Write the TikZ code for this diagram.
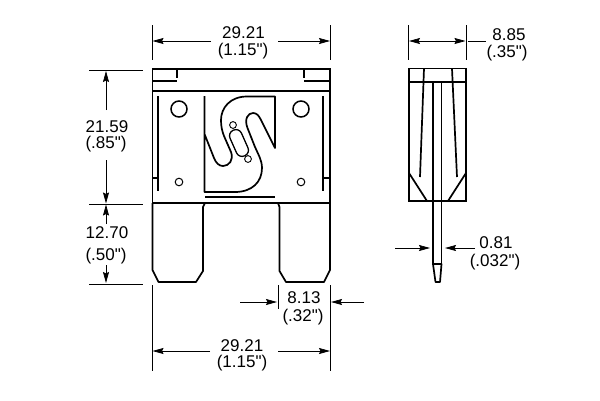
\documentclass[tikz,border=0pt]{standalone}
\usepackage{fontspec}
\newfontfamily\dimfont{Liberation Sans}
\usetikzlibrary{arrows.meta}
\tikzset{
  part/.style={line width=1.7pt,line join=miter,black},
  thin part/.style={line width=1.3pt,black},
  dimline/.style={line width=0.75pt,black},
  dimarrow/.style={line width=0.75pt,black,-{Stealth[length=11pt,width=6pt,inset=1.5pt]}},
  dimtext/.style={inner sep=0pt,font=\dimfont\fontsize{17}{19}\selectfont,text=black}
}
\begin{document}
\begin{tikzpicture}[x=1pt,y=-1pt]
\useasboundingbox (0,0) rectangle (600,400);
\fill[white] (0,0) rectangle (600,400);
% --- front view body
\draw[part] (152.5,203) -- (152.5,69) -- (330,69) -- (330,203);
\draw[part] (152.5,91) -- (330,91);
\draw[part] (152.5,203) -- (330,203);
\draw[thin part] (153,81) -- (177,81);
\draw[thin part] (177,69) -- (177,78);
\draw[thin part] (330,81) -- (304,81);
\draw[thin part] (304,69) -- (304,78);
\draw[part] (158,96) -- (158,191);
\draw[part] (323,96) -- (323,191);
\draw[thin part] (152.5,178) -- (158,178);
\draw[thin part] (323,178) -- (330,178);
\draw[line width=1.5pt] (179,109) circle (8);
\draw[line width=1.5pt] (301,109) circle (8);
\draw[line width=1pt] (179,182) circle (3.8);
\draw[line width=1pt] (301,182) circle (3.8);
% --- S shaped element
\draw[part,line join=round] (204.5,96) -- (204.5,192) -- (235,192)
  .. controls (252,192) and (262,182) .. (262,168)
  .. controls (262,160) and (258,154) .. (255,147)
  -- (247.5,128)
  .. controls (244,119) and (248,113) .. (253,113)
  .. controls (257,113) and (259,116) .. (261,120)
  -- (275,148) -- (275,96.5) -- (247,96.5)
  .. controls (230,96.5) and (221,108) .. (221,120)
  .. controls (221,126) and (222,131) .. (224,136)
  -- (231,152)
  .. controls (234,160) and (229,166) .. (223,166)
  .. controls (219,166) and (216,163) .. (214,158)
  -- (204.5,134);
\draw[part] (205,197) -- (275,197);
\node[draw,line width=1.3pt,rounded corners=6pt,rotate=24,minimum width=12.5pt,minimum height=28pt,inner sep=0pt] (slot) at (239,143) {};
\draw[line width=0.9pt] (233,125) circle (3.4);
\draw[line width=0.9pt] (248,159) circle (3.4);
% --- blades
\draw[part,line join=round] (152.5,203) -- (152.5,270) -- (158.5,282) -- (196,282) -- (203,271) -- (203,207) -- (205,203);
\draw[part,line join=round] (278,203) -- (279.5,207) -- (279.5,271) -- (286,282) -- (324,282) -- (330,270) -- (330,203);
% --- side view
\draw[part] (409,68.5) rectangle (466,201);
\draw[part] (409,82) -- (466,82);
\draw[part] (424,68.5) -- (420,177);
\draw[part] (452,68.5) -- (457,177);
\draw[part] (409,173) -- (427,201);
\draw[part] (466,173) -- (448,201);
\draw[part] (433,82) -- (433,264);
\draw[part] (441.5,82) -- (441.5,264);
\draw[part,line join=round] (433,264) -- (441.5,264) -- (440,282) -- (435.5,282) -- cycle;
% --- dimension texts
\node[dimtext] (ta) at (243.5,33) {29.21};
\node[dimtext] (tb) at (243,51) {(1.15")};
\node[dimtext] (tc) at (107,127) {21.59};
\node[dimtext] (td) at (106,144) {(.85")};
\node[dimtext] (te) at (107,233) {12.70};
\node[dimtext] (tf) at (106,256) {(.50")};
\node[dimtext] (tg) at (509,35) {8.85};
\node[dimtext] (th) at (507,53.5) {(.35")};
\node[dimtext] (ti) at (304,298) {8.13};
\node[dimtext] (tj) at (303,317) {(.32")};
\node[dimtext] (tk) at (242,346) {29.21};
\node[dimtext] (tl) at (242,363.5) {(1.15")};
\node[dimtext] (tm) at (496,243) {0.81};
\node[dimtext] (tn) at (495,262) {(.032")};
% --- extension lines
\draw[dimline] (152.5,25) -- (152.5,60);
\draw[dimline] (330,25) -- (330,60);
\draw[dimline] (89,70) -- (143,70);
\draw[dimline] (89,204) -- (143,204);
\draw[dimline] (89,284) -- (143,284);
\draw[dimline] (408.5,25) -- (408.5,60);
\draw[dimline] (466,25) -- (466,60);
\draw[dimline] (152.5,285) -- (152.5,371);
\draw[dimline] (330,285) -- (330,371);
\draw[dimline] (278,285) -- (278,309);
% --- arrows
\coordinate (a1) at (152.5,41); \coordinate (a2) at (330,41);
\draw[dimarrow] (211,41) -- (a1);
\draw[dimarrow] (278,41) -- (a2);
\coordinate (b1) at (106,71); \coordinate (b2) at (106,203.5); \coordinate (b3) at (106,204.5); \coordinate (b4) at (106,283);
\draw[dimarrow] (106,110) -- (b1);
\draw[dimarrow] (106,160) -- (b2);
\draw[dimarrow] (106,224) -- (b3);
\draw[dimarrow] (106,265) -- (b4);
\coordinate (c1) at (409,41); \coordinate (c2) at (465.5,41);
\draw[dimarrow] (437,41) -- (c1);
\draw[dimarrow] (437,41) -- (c2);
\draw[dimline] (468,41) -- (486,41);
\coordinate (d1) at (277,302); \coordinate (d2) at (331,302);
\draw[dimarrow] (240,302) -- (d1);
\draw[dimarrow] (364,302) -- (d2);
\coordinate (e1) at (152.5,351); \coordinate (e2) at (330,351);
\draw[dimarrow] (210,351) -- (e1);
\draw[dimarrow] (278,351) -- (e2);
\coordinate (f1) at (430,248); \coordinate (f2) at (445,248);
\draw[dimarrow] (395,248) -- (f1);
\draw[dimarrow] (475,248) -- (f2);
\end{tikzpicture}
\end{document}
